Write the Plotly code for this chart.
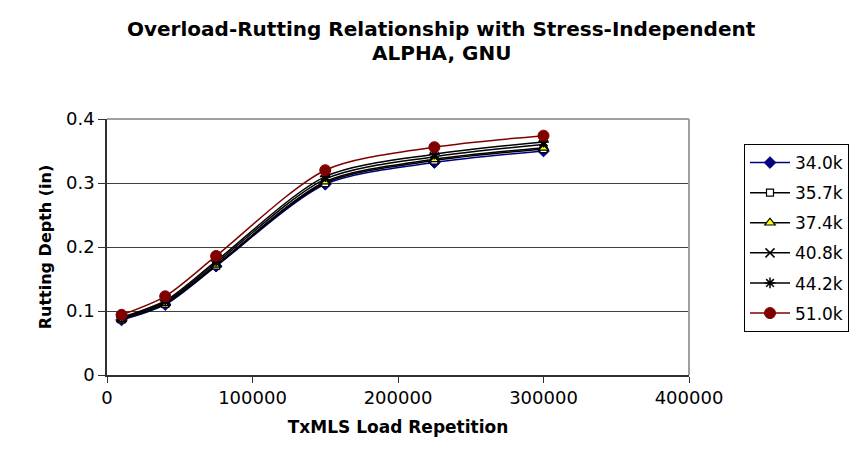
import plotly.graph_objects as go

load_reps = [10000, 40000, 75000, 150000, 225000, 300000]

series_names = ["34.0k", "35.7k", "37.4k", "40.8k", "44.2k", "51.0k"]
depth_340 = [0.086, 0.110, 0.170, 0.298, 0.332, 0.350]
depth_357 = [0.087, 0.111, 0.171, 0.300, 0.335, 0.353]
depth_374 = [0.087, 0.112, 0.172, 0.302, 0.337, 0.355]
depth_408 = [0.089, 0.114, 0.175, 0.306, 0.341, 0.360]
depth_442 = [0.090, 0.116, 0.178, 0.310, 0.345, 0.364]
depth_510 = [0.094, 0.123, 0.186, 0.320, 0.356, 0.374]
all_depths = [depth_340, depth_357, depth_374, depth_408, depth_442, depth_510]

title_lines = ["Overload-Rutting Relationship with Stress-Independent", "ALPHA, GNU"]

styles = [
    dict(line="#000080", marker=dict(symbol="diamond", size=9, color="#000080", line=dict(color="#000080", width=1))),
    dict(line="#000000", marker=dict(symbol="square", size=7, color="white", line=dict(color="#000000", width=1.2))),
    dict(line="#000000", marker=dict(symbol="triangle-up", size=9, color="#ffff00", line=dict(color="#000000", width=1.2))),
    dict(line="#000000", marker=dict(symbol="x-thin-open", size=9, color="#000000", line=dict(color="#000000", width=1.5))),
    dict(line="#000000", marker=dict(symbol="asterisk-open", size=9, color="#000000", line=dict(color="#000000", width=1.5))),
    dict(line="#800000", marker=dict(symbol="circle", size=11, color="#800000", line=dict(color="#800000", width=1))),
]

fig = go.Figure()
for i, (name, ys, st) in enumerate(zip(series_names, all_depths, styles)):
    fig.add_trace(go.Scatter(
        x=load_reps, y=ys, name=name, mode="lines+markers",
        line=dict(color=st["line"], width=1.5, shape="spline", smoothing=0.8),
        marker=st["marker"], legendgroup=f"g{i}",
    ))

font_family = "DejaVu Sans, Liberation Sans, Arial, sans-serif"
PL, PR, PT, PB = 99, 681, 111, 367
pw, ph = PR - PL, PB - PT

fig.update_layout(
    width=857, height=451,
    margin=dict(l=PL, r=857 - PR, t=PT, b=451 - PB),
    paper_bgcolor="white", plot_bgcolor="white",
    font=dict(family=font_family, color="black"),
    xaxis=dict(
        range=[0, 400000], dtick=100000, tick0=0, tickformat="d",
        showgrid=False, zeroline=False,
        showline=True, linecolor="#303030", linewidth=1.5,
        ticks="outside", ticklen=6, tickcolor="#303030", tickwidth=1.2,
        tickfont=dict(size=18),
        title=dict(text="<b>TxMLS Load Repetition</b>", font=dict(size=17), standoff=14),
    ),
    yaxis=dict(
        range=[0, 0.4], dtick=0.1, tick0=0,
        showgrid=True, gridcolor="#404040", gridwidth=1.2,
        zeroline=False,
        showline=True, linecolor="#303030", linewidth=1.5,
        ticks="outside", ticklen=7, tickcolor="#303030", tickwidth=1.2,
        tickfont=dict(size=18),
        title=dict(text="<b>Rutting Depth (in)</b>", font=dict(size=16), standoff=10),
    ),
    legend=dict(
        x=(736 - PL) / pw, y=(PB - 136) / ph, xanchor="left", yanchor="top",
        bordercolor="black", borderwidth=1, bgcolor="white",
        font=dict(size=17), traceorder="grouped", tracegroupgap=5,
        itemwidth=40,
    ),
    annotations=[
        dict(text="<b>" + title_lines[0] + "</b>", xref="paper", yref="paper",
             x=(433 - PL) / pw, y=(PB - 21) / ph, xanchor="center", yanchor="middle",
             showarrow=False, font=dict(size=20, family=font_family)),
        dict(text="<b>" + title_lines[1] + "</b>", xref="paper", yref="paper",
             x=(433 - PL) / pw, y=(PB - 45) / ph, xanchor="center", yanchor="middle",
             showarrow=False, font=dict(size=20, family=font_family)),
    ],
    shapes=[
        dict(type="line", xref="paper", yref="paper", x0=0, x1=1, y0=1, y1=1,
             line=dict(color="#a0a0a0", width=2)),
        dict(type="line", xref="paper", yref="paper", x0=1, x1=1, y0=0, y1=1,
             line=dict(color="#a0a0a0", width=2)),
    ],
)

fig.write_html("out.html")
